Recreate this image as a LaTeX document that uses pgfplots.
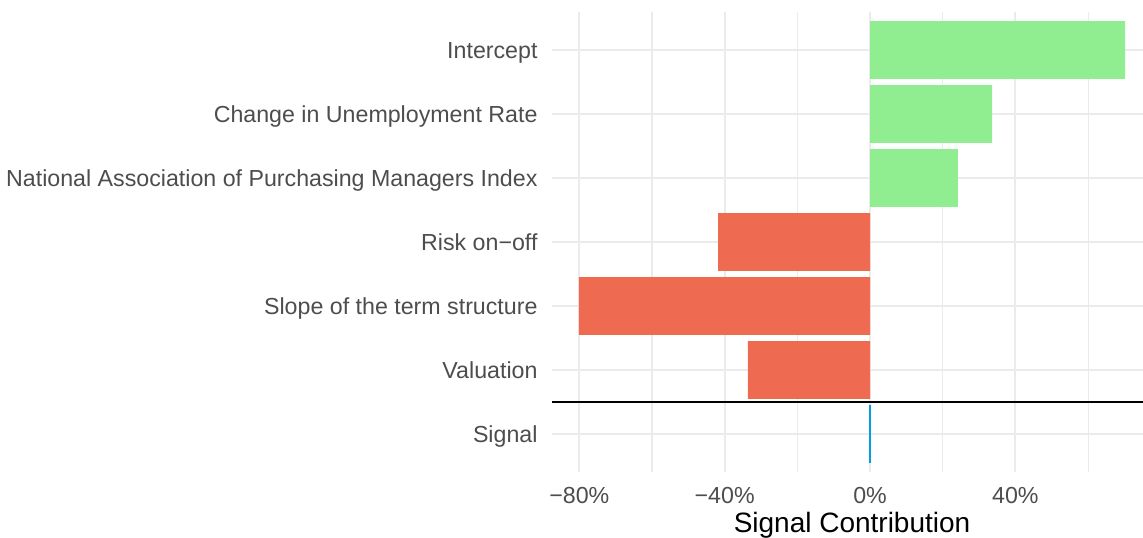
\documentclass[border=0pt]{standalone}
\usepackage{fontspec}
\setmainfont{Liberation Sans}
\usepackage{pgfplots}
\pgfplotsset{compat=1.18}
\definecolor{gridc}{HTML}{EBEBEB}
\definecolor{posc}{HTML}{90EE90}
\definecolor{negc}{HTML}{EE6B52}
\definecolor{sigc}{HTML}{009FE3}
\definecolor{tickc}{HTML}{4D4D4D}
\begin{document}
\begin{tikzpicture}
\useasboundingbox (-551.7pt,-65.6pt) rectangle (591.3pt,472.4pt);
\begin{axis}[
  at={(0pt,0pt)}, anchor=south west,
  scale only axis,
  width=600.7pt, height=460.8pt,
  xmin=-87.6, xmax=77.7,
  ymin=-0.6, ymax=6.6,
  axis line style={draw=none},
  tick style={draw=none},
  xtick={-80,-40,0,40},
  xticklabels={−80\%,−40\%,0\%,40\%},
  minor xtick={-60,-20,20,60},
  ytick={0,1,2,3,4,5,6},
  yticklabels={Signal,Valuation,Slope of the term structure,Risk on−off,National Association of Purchasing Managers Index,Change in Unemployment Rate,Intercept},
  xmajorgrids, ymajorgrids, xminorgrids,
  major grid style={draw=gridc, line width=2pt},
  minor grid style={draw=gridc, line width=1.1pt},
  xticklabel style={font=\fontsize{23.2}{27}\selectfont, text=tickc, anchor=north, inner sep=0pt, yshift=-14.5pt},
  yticklabel style={font=\fontsize{23.2}{27}\selectfont, text=tickc, anchor=base east, inner sep=0pt, xshift=-14pt, yshift=-8.6pt},
  xlabel={Signal Contribution},
  xlabel style={font=\fontsize{28}{32}\selectfont, text=black, at={(axis description cs:0.5,0)}, anchor=base, inner sep=0pt, yshift=-60.3pt},
  clip=false,
]
\addplot[xbar, bar width=0.9, fill=posc, draw=none] coordinates {(70.2,6) (33.6,5) (24.2,4)};
\addplot[xbar, bar width=0.9, fill=negc, draw=none] coordinates {(-41.8,3) (-80.1,2) (-33.6,1)};
\addplot[xbar, bar width=0.9, fill=sigc, draw=sigc, line width=1.3pt] coordinates {(0,0)};
\addplot[black, line width=2.4pt] coordinates {(-87.6,0.5) (77.7,0.5)};
\end{axis}
\end{tikzpicture}
\end{document}
